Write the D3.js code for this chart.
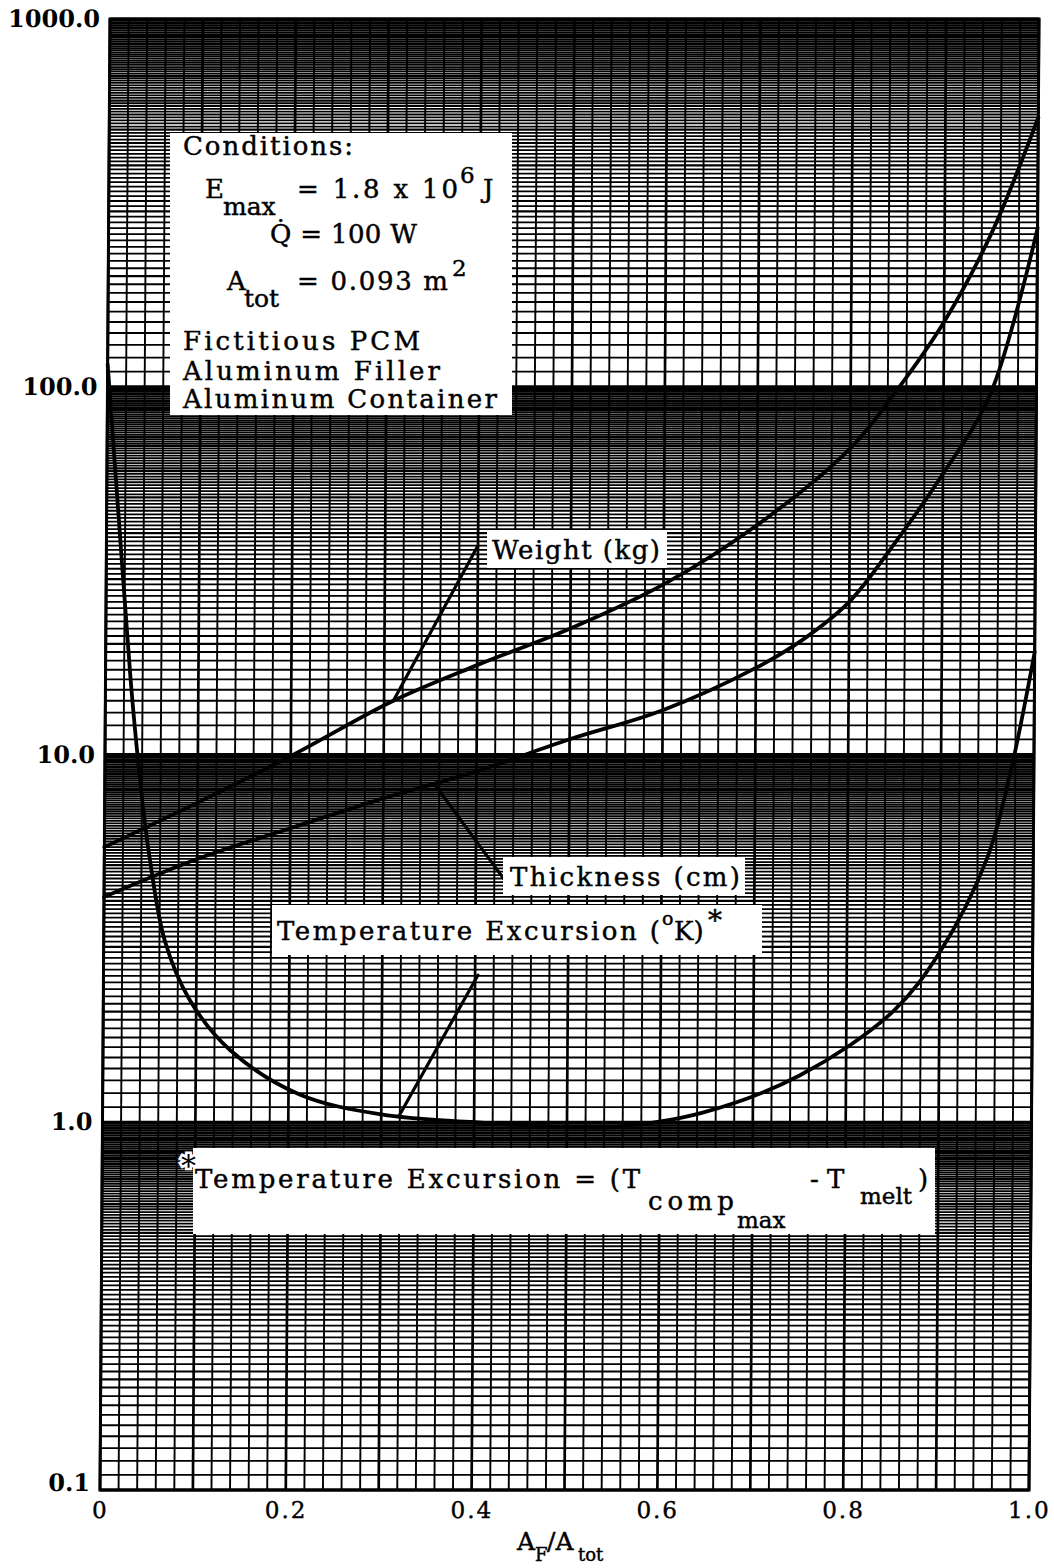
<!DOCTYPE html>
<html><head><meta charset="utf-8">
<script src="https://cdn.jsdelivr.net/npm/d3@7"></script>
<style>
body{margin:0;background:#fff;}
text{font-family:"DejaVu Serif",serif;fill:#000;}
</style>
</head><body>
<svg id="c" width="1054" height="1568"></svg>
<script>
// ---- data ----
const xTicks = [0, 0.2, 0.4, 0.6, 0.8, 1.0];
const xTickLabels = ["0", "0.2", "0.4", "0.6", "0.8", "1.0"];
const yTicks = [0.1, 1, 10, 100, 1000];
const yTickLabels = ["0.1", "1.0", "10.0", "100.0", "1000.0"];

const weightX = [0, 0.1, 0.2, 0.31, 0.4, 0.5, 0.6, 0.7, 0.8, 0.85, 0.9, 0.95, 1.0];
const weightY = [5.6, 7.4, 9.9, 14.0, 17.5, 22, 29, 42, 68, 98, 150, 260, 540];

const thickX = [0, 0.1, 0.2, 0.3, 0.4, 0.5, 0.6, 0.7, 0.75, 0.8, 0.85, 0.9, 0.95, 1.0];
const thickY = [4.1, 5.2, 6.3, 7.6, 9.0, 11, 13.2, 17.2, 20.5, 26, 38, 58, 95, 270];

const tempX = [0.0, 0.014, 0.027, 0.038, 0.049, 0.066, 0.093, 0.137, 0.212, 0.3, 0.4, 0.5, 0.55, 0.645, 0.75, 0.85, 0.9, 0.95, 0.975, 1.0];
const tempY = [115, 41, 16, 8.5, 5.2, 3.1, 2.15, 1.57, 1.19, 1.05, 1.0, 0.97, 0.97, 1.06, 1.34, 2.0, 2.9, 5.2, 9, 19];

const leaderWeight = [[0.31, 14.0], [0.40, 37]];
const leaderThick = [[0.355, 8.3], [0.431, 4.56]];
const leaderTemp = [[0.32, 1.05], [0.403, 2.51]];

// ---- drawing ----
const svg = d3.select("#c");
svg.append("rect").attr("width", 1054).attr("height", 1568).attr("fill", "#fff");
const g = svg.append("g").attr("transform", "translate(10.13,0) skewX(-0.39)");
const x = d3.scaleLinear().domain([0, 1]).range([100, 1029]);
const y = d3.scaleLog().domain([0.1, 1000]).range([1490, 19]);

// grid
const vLines = d3.range(0, 51).map(i => i / 50);
g.append("g").selectAll("line").data(vLines).join("line")
  .attr("x1", d => x(d)).attr("x2", d => x(d))
  .attr("y1", y(0.1)).attr("y2", y(1000))
  .attr("stroke", "#000").attr("stroke-width", (d, i) => i % 5 === 0 ? 2.7 : 1.9);

const hLines = [];
[0.1, 1, 10, 100].forEach(dec => {
  for (let k = 10; k < 100; k++) hLines.push({v: dec * k / 10, k});
});
hLines.push({v: 1000, k: 10});
g.append("g").selectAll("line").data(hLines).join("line")
  .attr("x1", x(0)).attr("x2", x(1))
  .attr("y1", d => y(d.v)).attr("y2", d => y(d.v))
  .attr("stroke", "#000")
  .attr("stroke-width", d => d.k === 10 ? 3 : (d.k % 10 === 0 ? 2.3 : 1.8));

g.append("rect").attr("x", x(0)).attr("y", y(1000))
  .attr("width", x(1) - x(0)).attr("height", y(0.1) - y(1000))
  .attr("fill", "none").attr("stroke", "#000").attr("stroke-width", 3);

// white label boxes (screen coords)
const boxes = svg.append("g");
[[170, 133, 342, 282], [487, 530, 180, 38], [503, 857, 242, 38],
 [272, 905, 490, 50], [193, 1148, 742, 86]].forEach(b => {
  boxes.append("rect").attr("x", b[0]).attr("y", b[1]).attr("width", b[2]).attr("height", b[3]).attr("fill", "#fff");
});

// curves
const line = d3.line().x(d => x(d[0])).y(d => y(d[1])).curve(d3.curveCatmullRom.alpha(0.5));
const curveG = g.append("g").attr("fill", "none").attr("stroke", "#000").attr("stroke-width", 3.8)
  .attr("stroke-linejoin", "round").attr("stroke-linecap", "round");
curveG.append("path").attr("d", line(weightX.map((v, i) => [v, weightY[i]])));
curveG.append("path").attr("d", line(thickX.map((v, i) => [v, thickY[i]])));
curveG.append("path").attr("d", line(tempX.map((v, i) => [v, tempY[i]])));
const lline = d3.line().x(d => x(d[0])).y(d => y(d[1]));
[leaderWeight, leaderThick, leaderTemp].forEach(L => {
  curveG.append("path").attr("d", lline(L)).attr("stroke-width", 3.2);
});

// axes labels
const yAxis = d3.axisLeft(y).tickValues(yTicks).tickFormat((d, i) => yTickLabels[i]).tickSize(0).tickPadding(10);
const ya = g.append("g").attr("transform", `translate(${x(0)},0)`).call(yAxis);
ya.select(".domain").remove();
ya.selectAll("text").attr("font-family", "DejaVu Serif").attr("font-size", 24).attr("font-weight", "bold").attr("fill", "#000");
ya.selectAll("text").filter((d) => d === 0.1).attr("dy", "0em");

const xAxis = d3.axisBottom(x).tickValues(xTicks).tickFormat((d, i) => xTickLabels[i]).tickSize(0).tickPadding(12);
const xa = g.append("g").attr("transform", `translate(0,${y(0.1)})`).call(xAxis);
xa.select(".domain").remove();
xa.selectAll("text").attr("font-family", "DejaVu Serif").attr("font-size", 23).attr("fill", "#000")
  .attr("letter-spacing", 2).attr("stroke", "#000").attr("stroke-width", 0.4);

// texts
const T = svg.append("g").attr("stroke", "#000").attr("stroke-width", 0.45);
function t(str, xx, yy, size, len) {
  const e = T.append("text").attr("x", xx).attr("y", yy).attr("font-size", size).text(str);
  if (len) e.attr("textLength", len).attr("lengthAdjust", "spacing");
  return e;
}
t("Conditions:", 183, 155, 26, 170);
t("E", 205, 198, 26);
t("max", 223, 215, 25);
t("= 1.8 x 10", 297, 198, 26, 161);
t("6", 460, 183, 23);
t("J", 483, 198, 26);
t("Q\u0307 = 100 W", 270, 243, 26, 147);
t("A", 227, 290, 26);
t("tot", 244, 307, 25);
t("= 0.093 m", 297, 290, 26, 151);
t("2", 452, 276, 23);
t("Fictitious PCM", 183, 350, 26, 237);
t("Aluminum Filler", 183, 380, 26, 257);
t("Aluminum Container", 183, 408, 26, 314);

t("Weight (kg)", 492, 559, 26, 168);
t("Thickness (cm)", 510, 886, 26, 230);

t("Temperature Excursion (", 277, 940, 26, 383);
t("o", 662, 925, 19);
t("K)", 674, 940, 26);
t("*", 708, 930, 28);

// footnote asterisk with white halo over the grid
svg.append("text").attr("x", 181).attr("y", 1176).attr("font-size", 30)
  .attr("stroke", "#fff").attr("stroke-width", 5).attr("paint-order", "stroke")
  .attr("fill", "#000").text("*");
t("Temperature Excursion = (T", 195, 1188, 26, 445);
t("comp", 648, 1210, 26, 86);
t("max", 737, 1228, 23);
t("- T", 810, 1188, 26);
t("melt", 860, 1204, 23);
t(")", 918, 1188, 26);

t("A", 517, 1550, 25);
t("F", 535, 1561, 18);
t("/A", 547, 1550, 25);
t("tot", 578, 1561, 18);
</script>
</body></html>
